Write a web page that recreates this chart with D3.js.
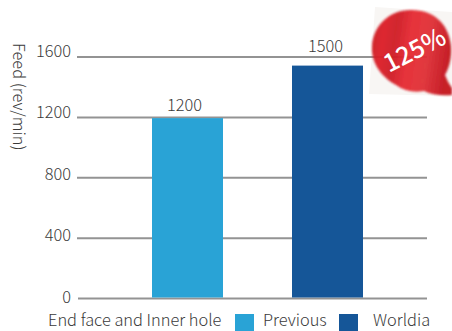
<!DOCTYPE html>
<html><head><meta charset="utf-8">
<script src="https://cdn.jsdelivr.net/npm/d3@7"></script>
<style>html,body{margin:0;padding:0;background:#fff}svg{display:block}text{font-family:"Noto Sans CJK SC","Noto Sans";fill:#3a3a3a;font-weight:300}</style>
</head><body><svg id="c" width="452" height="331"></svg>
<script>
const categories = ["Previous", "Worldia"];
const values = [1195, 1543];
const valueLabels = ["1200", "1500"];
const colors = ["#29a3d6", "#155698"];
const ticks = [0, 400, 800, 1200, 1600];
const yTitle = "Feed (rev/min)";
const xTitle = "End face and Inner hole";
const badge = "125%";

const svg = d3.select("#c");
const y = d3.scaleLinear().domain([0, 1600]).range([298.5, 57]);
const yLabel = d3.scaleLinear().domain([0, 1600]).range([296.5, 51]);
const xPos = d3.scalePoint().domain(categories).range([187.5, 327.5]);
const barW = 71;
const fs = 16.4;

// badge
const defs = svg.append("defs");
const g = defs.append("linearGradient").attr("id", "red").attr("x1", 0).attr("x2", 1).attr("y1", 0).attr("y2", 0.15);
[[0, "#c5151f"], [0.18, "#dd2028"], [0.33, "#cf1a24"], [0.52, "#e62a32"], [0.75, "#e03036"], [1, "#c5151f"]]
  .forEach(s => g.append("stop").attr("offset", s[0]).attr("stop-color", s[1]));
defs.append("filter").attr("id", "soft").append("feGaussianBlur").attr("stdDeviation", 1);
svg.append("path").attr("d", "M375 7 L452 12 L452 96 L369 94 Z").attr("fill", "#f8f6f4");

svg.append("g").selectAll("line").data(ticks).join("line")
  .attr("x1", d => d === 0 ? 78 : 77).attr("x2", 427)
  .attr("y1", d => y(d)).attr("y2", d => y(d))
  .attr("stroke", "#939393").attr("stroke-width", 2);

svg.append("path")
  .attr("d", "M411 10 C436 10 449 26 451 46 C452 58 449 68 445 75 C447 80 449 84 452 88 L452 95 C442 96 432 95 424 91 C414 93 404 91 396 85 C380 76 371 62 372 46 C373 26 389 10 411 10 Z")
  .attr("fill", "url(#red)").attr("filter", "url(#soft)").attr("opacity", 0.95);
svg.append("text").attr("transform", "translate(389,73) rotate(-27)")
  .attr("font-size", 25).style("fill", "#fff").style("font-weight", 500).text(badge);

const axis = d3.axisLeft(yLabel).tickValues(ticks).tickSize(0).tickPadding(0).tickFormat(d3.format("d"));
const gAxis = svg.append("g").attr("transform", "translate(71,0)").call(axis);
gAxis.select(".domain").remove();
gAxis.selectAll("text").attr("font-size", fs).attr("dy", "0.34em").attr("text-anchor", "end");

svg.append("g").selectAll("rect").data(categories).join("rect")
  .attr("x", d => xPos(d) - barW / 2).attr("width", barW)
  .attr("y", (d, i) => y(values[i])).attr("height", (d, i) => y(0) - y(values[i]) - 1)
  .attr("fill", (d, i) => colors[i]);

const labelGap = [7, 14];
const labelShift = [-3, -2];
svg.append("g").selectAll("text").data(categories).join("text")
  .attr("x", (d, i) => xPos(d) + labelShift[i]).attr("y", (d, i) => y(values[i]) - labelGap[i])
  .attr("text-anchor", "middle").attr("font-size", fs)
  .text((d, i) => valueLabels[i]);

svg.append("text").attr("transform", "translate(13,43) rotate(90)")
  .attr("font-size", fs).text(yTitle);

const legendBase = 326.2;
svg.append("text").attr("x", 48).attr("y", legendBase).attr("font-size", fs).text(xTitle);
const legendX = [235, 339], legendTextX = [263, 373];
svg.append("g").selectAll("rect").data(categories).join("rect")
  .attr("x", (d, i) => legendX[i]).attr("y", 314).attr("width", 19).attr("height", 17)
  .attr("fill", (d, i) => colors[i]);
svg.append("g").selectAll("text").data(categories).join("text")
  .attr("x", (d, i) => legendTextX[i]).attr("y", legendBase).attr("font-size", fs).text(d => d);
</script></body></html>
